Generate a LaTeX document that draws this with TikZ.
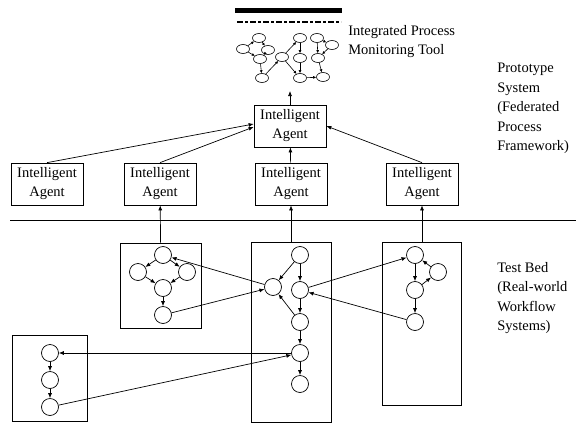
\documentclass[tikz,border=0pt]{standalone}
\usepackage{fontspec}
\setmainfont{Liberation Serif}
\usetikzlibrary{arrows.meta, shapes.geometric}

\begin{document}
\begin{tikzpicture}[x=1pt, y=-1pt, line width=0.7pt,
        txt/.style={font=\fontsize{14.5}{19.5}\selectfont, align=left, inner sep=0pt, anchor=north west},
        agent/.style={draw, font=\fontsize{14.5}{19}\selectfont, align=center, minimum width=72pt, minimum height=42pt, inner sep=1pt},
        tbox/.style={draw, inner sep=0pt},
        state/.style={circle, draw, minimum size=17pt, inner sep=0pt},
        mini/.style={ellipse, draw, minimum width=13pt, minimum height=9pt, inner sep=0pt, line width=0.6pt},
        flow/.style={-{Latex[length=5pt,width=4pt]}},
        tiny/.style={-{Latex[length=3pt,width=3pt]}, line width=0.6pt}]
        \useasboundingbox (0,0) rectangle (583,423);

        % monitoring tool
        \fill (235,8) rectangle (342,13);
        \draw[line width=2.5pt, dash pattern=on 6pt off 2pt on 3pt off 2pt] (237,22) -- (341,22);
        \foreach \n/\x/\y in {1/243/49, 2/259/38, 3/268/50, 4/260/59, 5/262/78, 6/282/57,
                              7/300/38, 8/300/58, 9/300/78, 10/317/38, 11/318/58, 12/323/77, 13/332/45} {
            \node[mini] (M-\n) at (\x,\y) {};
        }
        \foreach \i/\j in {1/2, 2/3, 1/4, 3/4, 4/5, 5/6, 6/7, 6/9, 7/8, 8/9, 9/12, 10/13, 13/11, 10/11, 11/12} {
            \draw[tiny] (M-\i) -- (M-\j);
        }
        \coordinate (tool) at (290,91);
        \node[txt] (title) at (348,25) {Integrated Process\\Monitoring Tool};

        % prototype system
        \node[agent] (top) at (290,126) {Intelligent\\Agent};
        \foreach \n/\x in {1/47, 2/160, 3/291, 4/422} {
            \node[agent] (ag-\n) at (\x,184) {Intelligent\\Agent};
        }
        \draw[flow] (top) -- (tool);
        \draw[flow] (ag-1.north) -- ([yshift=2pt]top.west);
        \draw[flow] (ag-2.north) -- ([yshift=-1pt]top.west);
        \draw[flow] (ag-3) -- (top);
        \draw[flow] (ag-4.north) -- (top.east);
        \node[txt] (proto) at (497,63) {Prototype\\System\\(Federated\\Process\\Framework)};

        \draw (10,220) -- (576,220);

        % test bed
        \node[tbox, minimum width=81pt, minimum height=85pt] (box-A) at (161,285.5) {};
        \node[tbox, minimum width=80pt, minimum height=180pt] (box-B) at (291,332) {};
        \node[tbox, minimum width=79pt, minimum height=163pt] (box-C) at (422,323.5) {};
        \node[tbox, minimum width=75pt, minimum height=86pt] (box-D) at (49.5,378) {};
        \draw[flow] (box-A) -- (ag-2);
        \draw[flow] (box-B) -- (ag-3);
        \draw[flow] (box-C) -- (ag-4);
        \node[txt] (bed) at (497,262) {Test Bed\\(Real-world\\Workflow\\Systems)};

        \foreach \n/\x/\y in {1/163/255, 2/138/272, 3/187/272, 4/163/288, 5/163/315} {
            \node[state] (A-\n) at (\x,\y) {};
        }
        \foreach \n/\x/\y in {1/300/255, 2/273/287, 3/300/290, 4/300/322, 5/300/353, 6/300/384} {
            \node[state] (B-\n) at (\x,\y) {};
        }
        \foreach \n/\x/\y in {1/415/255, 2/438/272, 3/415/290, 4/415/322} {
            \node[state] (C-\n) at (\x,\y) {};
        }
        \foreach \n/\x/\y in {1/50/353, 2/50/380, 3/50/407} {
            \node[state] (D-\n) at (\x,\y) {};
        }
        \foreach \i/\j in {1/2, 1/3, 2/4, 3/4, 4/5} {
            \draw[flow] (A-\i) -- (A-\j);
        }
        \foreach \i/\j in {1/2, 1/3, 3/4, 4/2, 4/5, 5/6} {
            \draw[flow] (B-\i) -- (B-\j);
        }
        \foreach \i/\j in {1/3, 3/2, 2/1, 3/4} {
            \draw[flow] (C-\i) -- (C-\j);
        }
        \foreach \i/\j in {1/2, 2/3} {
            \draw[flow] (D-\i) -- (D-\j);
        }
        \draw[flow] (B-2) -- (A-1);
        \draw[flow] (A-5) -- (B-2);
        \draw[flow] (B-5) -- (D-1);
        \draw[flow] (D-3) -- (B-5);
        \draw[flow] (B-3) -- (C-1);
        \draw[flow] (C-4) -- (B-3);
    \end{tikzpicture}
\end{document}
